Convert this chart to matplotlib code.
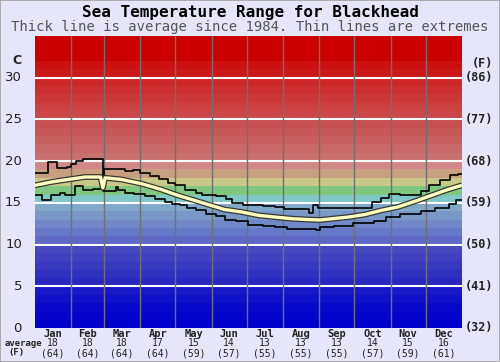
import matplotlib
matplotlib.use("Agg")
import matplotlib.pyplot as plt
from matplotlib.patches import Rectangle

# ---------------- data ----------------
months = ["Jan", "Feb", "Mar", "Apr", "May", "Jun", "Jul", "Aug", "Sep", "Oct", "Nov", "Dec"]
month_avg_c = ["18", "18", "18", "17", "15", "14", "13", "13", "13", "14", "15", "16"]
month_avg_f = ["(64)", "(64)", "(64)", "(64)", "(59)", "(57)", "(55)", "(55)", "(55)", "(57)", "(59)", "(61)"]
month_days = [31, 28, 31, 30, 31, 30, 31, 31, 30, 31, 30, 31]

c_ticks = [0, 5, 10, 15, 20, 25, 30]
f_labels = ["(32)", "(41)", "(50)", "(59)", "(68)", "(77)", "(86)"]

avg_days = [0, 14, 28, 43, 56, 58, 60, 74, 91, 108, 122, 134, 148, 162, 177, 191, 205,
            220, 233, 244, 254, 268, 282, 296, 310, 325, 339, 353, 365]
avg_vals = [17.1, 17.5, 17.8, 18.1, 18.1, 16.8, 18.0, 17.8, 17.3, 16.6, 15.9, 15.4, 14.8,
            14.2, 13.9, 13.5, 13.3, 13.1, 13.0, 12.95, 13.1, 13.3, 13.6, 14.1, 14.5, 15.2,
            15.9, 16.6, 17.1]

max_days = [0, 11, 19, 27, 31, 35, 41, 57, 58, 59, 77, 84, 90, 98, 106, 114, 120, 128, 138,
            143, 155, 163, 168, 178, 195, 205, 213, 234, 238, 242, 288, 296, 303, 312, 330,
            337, 346, 355, 362, 365]
max_vals = [18.6, 19.9, 19.2, 19.3, 19.6, 20.0, 20.3, 20.2, 16.8, 19.1, 18.8, 18.9, 18.6,
            18.2, 17.8, 17.4, 17.1, 16.6, 16.2, 15.9, 15.8, 15.5, 15.0, 14.7, 14.6, 14.5,
            14.3, 13.8, 14.8, 14.4, 15.1, 15.6, 16.1, 15.9, 16.4, 17.2, 17.7, 18.3, 18.5, 18.5]

min_days = [0, 6, 14, 21, 26, 34, 41, 50, 58, 69, 71, 77, 85, 94, 103, 111, 117, 124, 130,
            138, 146, 155, 162, 172, 182, 195, 205, 215, 240, 244, 256, 272, 290, 300, 312,
            330, 342, 354, 360, 365]
min_vals = [15.9, 15.4, 15.9, 16.2, 16.0, 17.0, 16.5, 16.7, 16.4, 16.9, 16.5, 16.2, 16.1,
            15.8, 15.5, 15.1, 14.9, 14.8, 14.4, 14.1, 13.7, 13.4, 13.0, 12.8, 12.4, 12.2,
            12.1, 11.9, 11.8, 12.1, 12.2, 12.6, 12.8, 13.3, 13.7, 14.0, 14.4, 14.9, 15.3, 15.3]

# colour of each 1-degree band, from 0 upward (styling)
band_colors = [
    "#0000cc", "#0404cc", "#0808cc", "#1010c8", "#1818c8",
    "#2828c0", "#3030c0", "#3838c0", "#4040c0", "#4848c0",
    "#6068c8", "#6878c8", "#7088c8", "#7898c8", "#80a8c8",
    "#80c8c8", "#80c880", "#c8c888", "#c8a080", "#d08888",
    "#c87070", "#c86868", "#c86060", "#c85858", "#c85050",
    "#cc4848", "#cc4040", "#cc3838", "#cc3030", "#cc2828",
    "#cc1818", "#cc1010", "#cc0000", "#cc0000", "#cc0000",
]

# ---------------- figure ----------------
bg = "#e6e6fa"
fig = plt.figure(figsize=(5.0, 3.62), dpi=100, facecolor=bg)
fig.patches.append(Rectangle((0, 0), 1, 1, transform=fig.transFigure, fill=False,
                             edgecolor="#a0a0a0", linewidth=1.2))

ax = fig.add_axes([35 / 500, 34 / 362, 427 / 500, 292 / 362])
ax.set_xlim(0, 365)
ax.set_ylim(0, 35)
for i, c in enumerate(band_colors):
    ax.axhspan(i, i + 1, color=c, linewidth=0, zorder=0)
for t in c_ticks[1:]:
    ax.axhline(t, color="white", linewidth=1.5, zorder=1)

bounds = [0]
for d in month_days:
    bounds.append(bounds[-1] + d)
for b in bounds[1:-1]:
    ax.axvline(b, color="#707070", linewidth=1.0, zorder=1)

ax.step(max_days, max_vals, where="post", color="black", linewidth=1.2, zorder=3)
ax.step(min_days, min_vals, where="post", color="black", linewidth=1.2, zorder=3)
ax.plot(avg_days, avg_vals, color="#383830", linewidth=4.2, zorder=4, solid_capstyle="butt")
ax.plot(avg_days, avg_vals, color="#ffffc0", linewidth=2.4, zorder=5, solid_capstyle="butt")

ax.set_xticks([])
ax.set_yticks([])
for s in ax.spines.values():
    s.set_visible(False)

# ---------------- text ----------------
mono = "DejaVu Sans Mono"
fig.text(0.5, 1 - 12 / 362, "Sea Temperature Range for Blackhead", ha="center", va="center",
         family=mono, fontweight="bold", fontsize=11.5)
fig.text(0.5, 1 - 27 / 362, "Thick line is average since 1984. Thin lines are extremes",
         ha="center", va="center", family=mono, fontsize=10.0, color="#555555")

fig.text(17 / 500, 1 - 61 / 362, "C", ha="center", va="center", family="DejaVu Sans",
         fontsize=9, fontweight="bold", color="#222222")
fig.text(482 / 500, 1 - 63 / 362, "(F)", ha="center", va="center", family=mono,
         fontsize=8.5, fontweight="bold", color="#222222")
for t, fl in zip(c_ticks, f_labels):
    yy = ax.transData.transform((0, t))[1] / fig.bbox.height
    fig.text(22 / 500, yy, str(t), ha="right", va="center", family="DejaVu Sans",
             fontsize=9.5, color="#222222")
    fig.text(465 / 500, yy, fl, ha="left", va="center", family=mono, fontsize=8.5,
             fontweight="bold", color="#222222")

for i, m in enumerate(months):
    mid = (bounds[i] + bounds[i + 1]) / 2
    xx = ax.transData.transform((mid, 0))[0] / fig.bbox.width
    fig.text(xx, 1 - 334 / 362, m, ha="center", va="center", family=mono, fontsize=7.5,
             fontweight="bold", color="#222222")
    fig.text(xx, 1 - 343.5 / 362, month_avg_c[i], ha="center", va="center", family=mono,
             fontsize=7, color="#222222")
    fig.text(xx, 1 - 353 / 362, month_avg_f[i], ha="center", va="center", family=mono,
             fontsize=7, color="#222222")
fig.text(23 / 500, 1 - 343.5 / 362, "average", ha="center", va="center", family=mono,
         fontsize=6.5, fontweight="bold", color="#222222")
fig.text(16 / 500, 1 - 353 / 362, "(F)", ha="center", va="center", family=mono,
         fontsize=6.5, fontweight="bold", color="#222222")

fig.savefig("out.png", dpi=100, facecolor=bg)
